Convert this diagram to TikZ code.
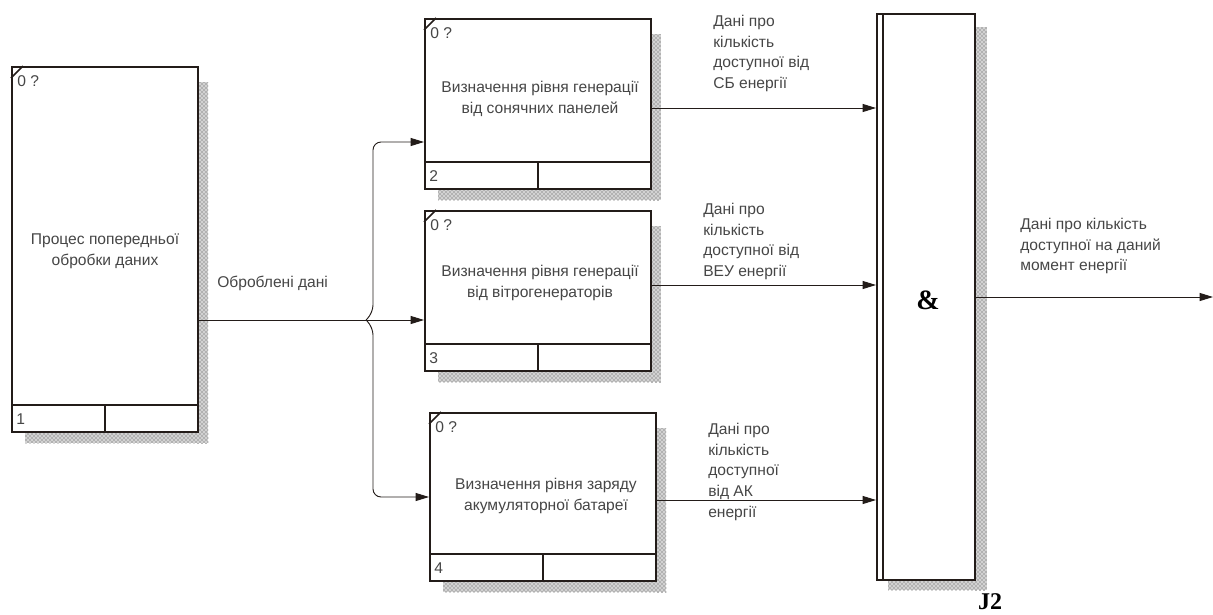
\documentclass[tikz,border=0pt]{standalone}
\usepackage{fontspec}
\setmainfont{Liberation Sans}
\newfontfamily\serifbf{Liberation Serif}
\usetikzlibrary{arrows.meta,positioning,calc,patterns}
\newcommand\pxu{0.75pt}
\definecolor{txtgray}{RGB}{70,70,70}
\definecolor{linedark}{RGB}{35,28,25}

\begin{document}
\begin{tikzpicture}[
    x=0.75pt, y=-0.75pt,
    every node/.style={font=\fontsize{11.7}{15.5}\selectfont, text=txtgray},
    act/.style={draw=linedark, line width=1.3pt, inner sep=0pt, anchor=north west},
    shd/.style={fill=gray!35, postaction={pattern=crosshatch dots, pattern color=black!70}},
    flow/.style={draw=linedark, line width=0.7pt, -{Triangle[length=10pt,width=6pt]}},
    lbl/.style={align=left, anchor=north west, inner sep=0pt},
  ]
  \useasboundingbox (0,0) rectangle (1213,614);

  % activity boxes
  \foreach \nm/\xl/\yt/\bw/\bh/\num in {b1/11/66/186/365/1, b2/424/18/226/170/2,
                                        b3/424/210/226/160/3, b4/429/412/226/168/4} {
    \fill[shd] (\xl+\bw,\yt+16) rectangle (\xl+\bw+11,\yt+\bh+12);
    \fill[shd] (\xl+14,\yt+\bh) rectangle (\xl+\bw+11,\yt+\bh+12);
    \node[act, fill=white, minimum width=\bw*\pxu, minimum height=\bh*\pxu] (\nm) at (\xl,\yt) {};
    \draw[linedark, line width=1.3pt] ($(\nm.south west)+(0,-28)$) -- ($(\nm.south east)+(0,-28)$);
    \draw[linedark, line width=1.3pt] ($(\nm.south)+(0,-28)$) -- (\nm.south);
    \draw[linedark, line width=1.3pt] ($(\nm.north west)+(0,12)$) -- ($(\nm.north west)+(12,0)$);
    \node[anchor=west, inner sep=0pt] at ($(\nm.north west)+(6,15)$) {0 ?};
    \node[anchor=west, inner sep=0pt] at ($(\nm.south west)+(5,-14)$) {\num};
  }

  \node[align=center] (t1) at (105,251) {Процес попередньої\\обробки даних};
  \node[align=center] (t2) at (540,99) {Визначення рівня генерації\\від сонячних панелей};
  \node[align=center] (t3) at (540,283) {Визначення рівня генерації\\від вітрогенераторів};
  \node[align=center] (t4) at (546,496) {Визначення рівня заряду\\акумуляторної батареї};

  % junction
  \fill[shd] (974,27) rectangle (987,590);
  \fill[shd] (888,579) rectangle (987,590);
  \node[act, fill=white, minimum width=98*\pxu, minimum height=566*\pxu] (j2) at (876,13) {};
  \draw[linedark, line width=1.3pt] ($(j2.north west)+(7,0)$) -- ($(j2.south west)+(7,0)$);
  \node[font=\serifbf\bfseries\fontsize{21}{22}\selectfont, text=black] (amp) at (928,300) {\&};
  \node[font=\serifbf\bfseries\fontsize{18}{20}\selectfont, text=black] (jlbl) at (990,602) {J2};

  % arrows
  \coordinate (fork) at (366,320);
  \draw[flow] ($(b1.north east)+(0,254)$) -- ($(b3.north west)+(0,110)$);
  \draw[flow, rounded corners=6pt] (fork) -- ($(fork)+(7,-7)$) |- ($(b2.north west)+(0,124)$);
  \draw[flow, rounded corners=6pt] (fork) -- ($(fork)+(7,7)$) |- ($(b4.north west)+(0,85)$);
  \node[anchor=west, inner sep=0pt] (lin) at (217,283) {Оброблені дані};

  \draw[flow] ($(b2.north east)+(0,90)$) -- ($(j2.north west)+(0,95)$);
  \draw[flow] ($(b3.north east)+(0,75)$) -- ($(j2.north west)+(0,272)$);
  \draw[flow] ($(b4.north east)+(0,88)$) -- ($(j2.north west)+(0,487)$);
  \coordinate (outend) at (1213,297);
  \draw[flow] ($(j2.north east)+(0,284)$) -- (outend);

  \node[lbl] (l2) at (713,15) {Дані про\\кількість\\доступної від\\СБ енергії};
  \node[lbl] (l3) at (703,203) {Дані про\\кількість\\доступної від\\ВЕУ енергії};
  \node[lbl] (l4) at (708,423) {Дані про\\кількість\\доступної\\від АК\\енергії};
  \node[lbl] (lout) at (1020,218) {Дані про кількість\\доступної на даний\\момент енергії};
\end{tikzpicture}
\end{document}
